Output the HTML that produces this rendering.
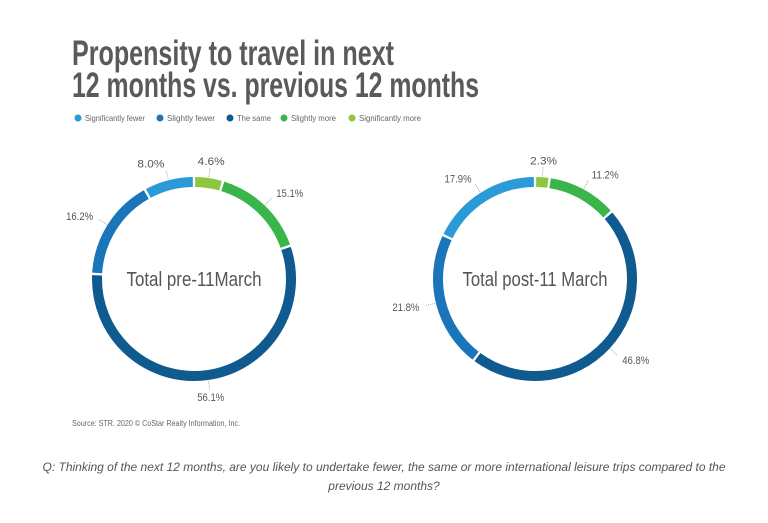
<!DOCTYPE html>
<html><head><meta charset="utf-8"><style>
body{margin:0;background:#fff;}
svg{display:block;font-family:"Liberation Sans",sans-serif;}
</style></head><body>
<svg id="c" width="768" height="523" viewBox="0 0 768 523">
<text x="72" y="65" font-size="35" font-weight="bold" fill="#5a5a5a" textLength="322" lengthAdjust="spacingAndGlyphs">Propensity to travel in next</text>
<text x="72" y="97" font-size="35" font-weight="bold" fill="#5a5a5a" textLength="407" lengthAdjust="spacingAndGlyphs">12 months vs. previous 12 months</text>
<g id="legend"></g>
<g id="donuts"></g>
<text x="72" y="426" font-size="8" fill="#666" textLength="168" lengthAdjust="spacingAndGlyphs">Source: STR. 2020 © CoStar Realty Information, Inc.</text>
<text x="384" y="471" font-size="12" font-style="italic" fill="#555" text-anchor="middle">Q: Thinking of the next 12 months, are you likely to undertake fewer, the same or more international leisure trips compared to the</text>
<text x="384" y="490" font-size="12" font-style="italic" fill="#555" text-anchor="middle">previous 12 months?</text>
</svg>
<script>
const categories=["Significantly more","Slightly more","The same","Slightly fewer","Significantly fewer"];
const colors=["#8dc63f","#3ab54a","#0f5a8e","#1a75bb","#2b9bd8"];
const preValues=[4.6,15.1,56.1,16.2,8.0];
const postValues=[2.3,11.2,46.8,21.8,17.9];
const chartTitles=["Total pre-11March","Total post-11 March"];
const legendOrder=["Significantly fewer","Slightly fewer","The same","Slightly more","Significantly more"];
const NS="http://www.w3.org/2000/svg";
const svg=document.getElementById('c');
function mk(t,a,p){const e=document.createElementNS(NS,t);for(const k in a)e.setAttribute(k,a[k]);(p||svg).appendChild(e);return e;}
const lg=document.getElementById('legend');
const lx=[78,160,230,284,352];
const lw=[60,48,34,45,62];
legendOrder.forEach((n,i)=>{
  const ci=categories.indexOf(n);
  const d=mk('circle',{cx:lx[i],cy:118,r:3.5,fill:colors[ci]},lg);
  
  
  const t=mk('text',{x:lx[i]+7,y:121,'font-size':8,fill:'#666',textLength:lw[i],lengthAdjust:'spacingAndGlyphs'},lg);
  t.textContent=n;
  
  
});
function donut(cx,cy,vals,title,idx,tw){
  const g=mk('g',{},document.getElementById('donuts'));
  
  
  const R=97,W=10,tot=vals.reduce((a,b)=>a+b,0);
  let acc=0;
  vals.forEach((v,i)=>{
    const a0=acc/tot*2*Math.PI,a1=(acc+v)/tot*2*Math.PI;acc+=v;
    const gap=0.012;
    const s=a0+gap,e=a1-gap;
    const p=(a)=>[cx+R*Math.sin(a),cy-R*Math.cos(a)];
    const [x0,y0]=p(s),[x1,y1]=p(e);
    const path=mk('path',{d:`M${x0},${y0} A${R},${R} 0 ${e-s>Math.PI?1:0} 1 ${x1},${y1}`,stroke:colors[i],'stroke-width':W,fill:'none'},g);
    
    
    const m=(a0+a1)/2;
    const lr=R+22;
    const lx2=cx+lr*Math.sin(m),ly=cy-lr*Math.cos(m);
    const e1=[cx+(R+6)*Math.sin(m),cy-(R+6)*Math.cos(m)];
    const ln=mk('line',{x1:e1[0],y1:e1[1],x2:cx+(R+16)*Math.sin(m),y2:cy-(R+16)*Math.cos(m),stroke:'#aaa','stroke-dasharray':'1,1'},g);
    
    
    const t=mk('text',{x:lx2,y:ly+4,'font-size':11,fill:'#555',textLength:27,lengthAdjust:'spacingAndGlyphs','text-anchor':Math.sin(m)>0.2?'start':(Math.sin(m)<-0.2?'end':'middle')},g);
    t.textContent=v.toFixed(1)+'%';
    
    
  });
  const ct=mk('text',{x:cx,y:cy+7,'font-size':20,fill:'#555','text-anchor':'middle',textLength:tw,lengthAdjust:'spacingAndGlyphs'},g);
  ct.textContent=title;
  
  
}
donut(194,279,preValues,chartTitles[0],0,135);
donut(535,279,postValues,chartTitles[1],1,145);
</script>
</body></html>
